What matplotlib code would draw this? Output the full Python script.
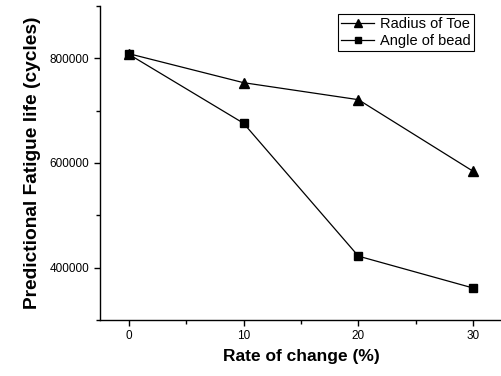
import matplotlib
matplotlib.use("Agg")
import matplotlib.pyplot as plt
from matplotlib.ticker import MultipleLocator

plt.rcParams["font.family"] = ["Liberation Sans", "DejaVu Sans"]

# datos
rate = [0, 10, 20, 30]
radius_toe = [809000, 753500, 721000, 584000]
angle_bead = [808000, 676000, 422000, 361000]

fig = plt.figure(figsize=(5.02, 3.76), dpi=100)
ax = fig.add_axes([0.199, 0.149, 0.801, 0.835])

ax.plot(rate, radius_toe, color="black", lw=0.9, marker="^", ms=7, label="Radius of Toe")
ax.plot(rate, angle_bead, color="black", lw=0.9, marker="s", ms=5.5, label="Angle of bead")

ax.set_xlim(-2.5, 32.5)
ax.set_ylim(300000, 900000)
ax.xaxis.set_major_locator(MultipleLocator(10))
ax.xaxis.set_minor_locator(MultipleLocator(5))
ax.yaxis.set_major_locator(MultipleLocator(200000))
ax.yaxis.set_minor_locator(MultipleLocator(100000))
ax.tick_params(which="both", direction="out", labelsize=8.5, width=1)
ax.tick_params(which="major", length=4)
ax.tick_params(which="minor", length=3)
ax.spines["top"].set_visible(False)
ax.spines["right"].set_visible(False)
ax.spines["left"].set_linewidth(1)
ax.spines["bottom"].set_linewidth(1)

ax.set_xlabel("Rate of change (%)", fontsize=12.5, fontweight="bold", labelpad=5)
ax.set_ylabel("Predictional Fatigue life (cycles)", fontsize=13.8, fontweight="bold", labelpad=6)

leg = ax.legend(loc="upper right", bbox_to_anchor=(0.93, 0.975), fontsize=10.5, fancybox=False,
                edgecolor="black", framealpha=1, handlelength=2.3, borderpad=0.2,
                labelspacing=0.25, handletextpad=0.4, borderaxespad=0, markerscale=0.8)
leg.get_frame().set_linewidth(0.8)

fig.savefig("out.png", dpi=100)
